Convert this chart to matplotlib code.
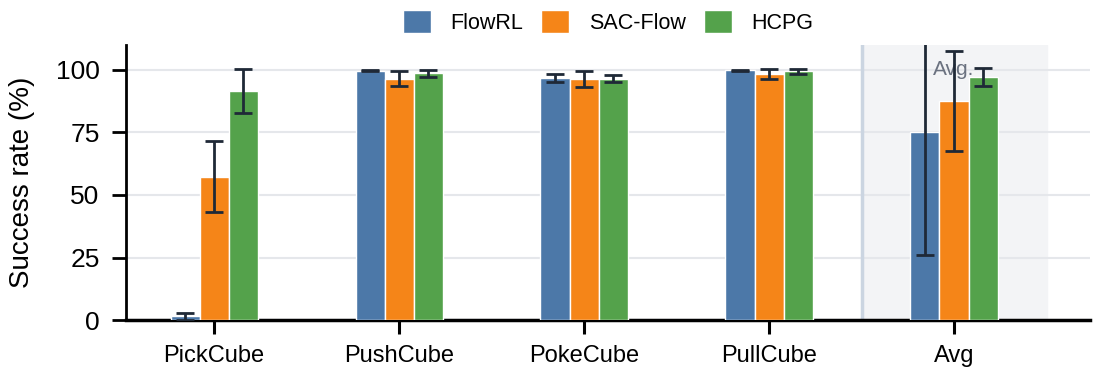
import matplotlib
matplotlib.use("Agg")
import matplotlib.pyplot as plt
import numpy as np

tasks = ['PickCube', 'PushCube', 'PokeCube', 'PullCube', 'Avg']
methods = ['FlowRL', 'SAC-Flow', 'HCPG']
colors = ['#4c78a8', '#f58518', '#54a24b']

flowrl_mean = [1.5, 99.7, 96.7, 99.8, 75.0]
flowrl_err = [1.5, 0.3, 1.7, 0.3, 49.0]
sacflow_mean = [57.3, 96.5, 96.2, 98.2, 87.5]
sacflow_err = [14.3, 2.9, 3.2, 2.0, 19.9]
hcpg_mean = [91.6, 98.6, 96.5, 99.4, 97.0]
hcpg_err = [8.7, 1.3, 1.4, 0.9, 3.6]

means = [flowrl_mean, sacflow_mean, hcpg_mean]
errs = [flowrl_err, sacflow_err, hcpg_err]

plt.rcParams['font.family'] = ['Liberation Sans', 'DejaVu Sans']

fig = plt.figure(figsize=(10.96, 3.77), dpi=100)
ax = fig.add_axes([0.115, 0.151, 0.8795, 0.730])

x = np.arange(len(tasks))
w = 0.157

# shaded avg region
ax.axvspan(3.5, 4.5, color='#f3f4f6', zorder=0)
ax.axvline(3.5, color='#cbd5e1', lw=2.5, zorder=1)

for i in range(3):
    ax.bar(x + (i - 1) * w, means[i], w, color=colors[i], edgecolor='white',
           linewidth=1, label=methods[i], zorder=3)
    ax.errorbar(x + (i - 1) * w, means[i], yerr=errs[i], fmt='none',
                ecolor='#1f2937', elinewidth=2, capsize=6.5, capthick=2, zorder=4)

ax.text(4.0, 100, 'Avg.', color='#6b7280', fontsize=15, ha='center', va='center', zorder=2)

ax.set_xlim(-0.476, 4.735)
ax.set_ylim(0, 110)
ax.set_yticks([0, 25, 50, 75, 100])
ax.set_xticks(x)
ax.set_xticklabels(tasks, fontsize=17)
ax.tick_params(axis='y', labelsize=19, width=2, length=10, pad=9)
ax.tick_params(axis='x', width=2.2, length=10, pad=8)
ax.set_ylabel('Success rate (%)', fontsize=20, labelpad=15)
ax.grid(axis='y', color='#e5e7eb', lw=1.5, zorder=0)
ax.set_axisbelow(True)
for s in ['top', 'right']:
    ax.spines[s].set_visible(False)
ax.spines['left'].set_linewidth(2)
ax.spines['bottom'].set_linewidth(2.5)

ax.legend(loc='lower center', bbox_to_anchor=(0.5, 0.97), ncol=3, frameon=False,
          fontsize=15.5, handlelength=1.3, handleheight=1.2, columnspacing=0.85,
          handletextpad=0.9)

fig.savefig('out.png', dpi=100)
